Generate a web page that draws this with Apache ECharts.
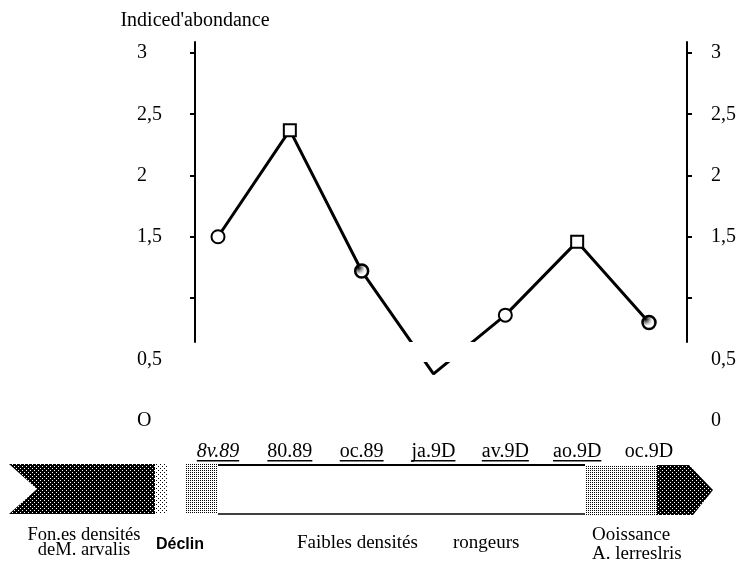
<!DOCTYPE html>
<html><head><meta charset="utf-8">
<script src="https://cdn.jsdelivr.net/npm/echarts@6/dist/echarts.min.js"></script>
<style>html,body{margin:0;padding:0;background:#fff}#c{width:739px;height:562px}</style>
</head><body><div id="c"></div>
<script>
// ---- data ----
const categories = ['8v.89', '80.89', 'oc.89', 'ja.9D', 'av.9D', 'ao.9D', 'oc.9D'];
const abundance = [1.50, 2.37, 1.22, 0.38, 0.86, 1.46, 0.80];
const markerKinds = ['open-circle', 'open-square', 'dotted-circle', 'none', 'open-circle', 'open-square', 'dotted-circle'];
const leftTickLabels = ['O', '0,5', '', '1,5', '2', '2,5', '3'];
const rightTickLabels = ['0', '0,5', '', '1,5', '2', '2,5', '3'];
const tickMarkValues = [1, 1.5, 2, 2.5, 3];
const yTitle = "Indiced'abondance";
const phaseLabels = ['Fon.es densités\ndeM. arvalis', 'Déclin', 'Faibles densités', 'rongeurs', 'Ooissance\nA. lerreslris'];

// ---- patterns ----
function pattern(w, h, bg, fg, pts) {
  const c = document.createElement('canvas');
  c.width = w; c.height = h;
  const g = c.getContext('2d');
  g.fillStyle = bg; g.fillRect(0, 0, w, h);
  g.fillStyle = fg;
  pts.forEach(p => g.fillRect(p[0], p[1], 1, 1));
  return { image: c, repeat: 'repeat' };
}
const darkPat = () => pattern(4, 4, '#000', '#fff', [[0, 0], [2, 2]]);
const lightPat = () => pattern(4, 4, '#fff', '#000', [[0, 0], [2, 2], [2, 0], [0, 2]]);
const sparsePat = () => pattern(4, 4, '#fff', '#000', [[0, 0], [2, 2]]);
const markerPat = () => pattern(4, 4, '#fff', '#000', [[1, 1], [3, 3], [1, 3]]);

const SERIF = '"Liberation Serif", "Times New Roman", serif';

function markerItem(v, kind) {
  if (kind === 'none') return { value: v, symbol: 'none' };
  if (kind === 'open-square') return { value: v, symbol: 'rect', symbolSize: 12, itemStyle: { color: '#fff', borderColor: '#000', borderWidth: 2, opacity: 1 } };
  if (kind === 'dotted-circle') return { value: v, symbol: 'circle', symbolSize: 13, itemStyle: { color: markerPat(), borderColor: '#000', borderWidth: 2.5, opacity: 1 } };
  return { value: v, symbol: 'circle', symbolSize: 13, itemStyle: { color: '#fff', borderColor: '#000', borderWidth: 2, opacity: 1 } };
}

const chart = echarts.init(document.getElementById('c'), null, { renderer: 'canvas' });

const underline = () => new echarts.graphic.LinearGradient(0, 0, 0, 1, [
  { offset: 0, color: 'rgba(255,255,255,0)' }, { offset: 0.9, color: 'rgba(255,255,255,0)' },
  { offset: 0.9, color: '#000' }, { offset: 1, color: '#000' }]);

const labelAxisBase = {
  gridIndex: 0, type: 'value', min: 0, max: 3, interval: 0.5,
  axisLine: { show: false }, axisTick: { show: false }, splitLine: { show: false }
};
const lineAxisBase = {
  gridIndex: 1, type: 'value', min: 0.64, max: 3.09,
  axisLine: { show: true, lineStyle: { color: '#000', width: 2 } },
  axisTick: { show: true, customValues: tickMarkValues, length: 5, lineStyle: { color: '#000', width: 2 } },
  axisLabel: { show: false }, splitLine: { show: false }
};

chart.setOption({
  animation: false,
  backgroundColor: '#fff',
  grid: [
    { left: 218, right: 89, top: 53, bottom: 141.5 },
    { left: 218, right: 89, top: 42, bottom: 220 }
  ],
  xAxis: [
    {
      gridIndex: 0, type: 'category', data: categories, boundaryGap: false,
      axisLine: { show: false }, axisTick: { show: false },
      axisLabel: {
        margin: 22,
        formatter: (v, i) => (i === 0 ? '{ui|' + v + '}' : (i === categories.length - 1 ? '{n|' + v + '}' : '{u|' + v + '}')),
        rich: {
          u: { fontFamily: SERIF, fontSize: 20, color: '#000', lineHeight: 18, backgroundColor: underline() },
          ui: { fontFamily: SERIF, fontSize: 20, fontStyle: 'italic', color: '#000', lineHeight: 18, backgroundColor: underline() },
          n: { fontFamily: SERIF, fontSize: 20, color: '#000', lineHeight: 18 }
        }
      }
    },
    { gridIndex: 1, type: 'category', data: categories, boundaryGap: false, show: false }
  ],
  yAxis: [
    Object.assign({}, labelAxisBase, {
      position: 'left', offset: 23,
      axisLabel: { margin: 58, align: 'left', fontFamily: SERIF, fontSize: 20, color: '#000', formatter: (v, i) => leftTickLabels[i] }
    }),
    Object.assign({}, labelAxisBase, {
      position: 'right', offset: 37,
      axisLabel: { margin: 25, align: 'left', fontFamily: SERIF, fontSize: 20, color: '#000', formatter: (v, i) => rightTickLabels[i] }
    }),
    Object.assign({}, lineAxisBase, {
      position: 'left', offset: 23,
      name: yTitle, nameLocation: 'end', nameGap: 11,
      nameTextStyle: { fontFamily: SERIF, fontSize: 20, color: '#000', align: 'center' }
    }),
    Object.assign({}, lineAxisBase, { position: 'right', offset: 37 })
  ],
  visualMap: {
    show: false, type: 'piecewise', seriesIndex: 0, dimension: 1,
    pieces: [
      { lt: 0.48, color: '#000' },
      { gte: 0.48, lte: 0.64, color: 'rgba(255,255,255,0)' },
      { gt: 0.64, color: '#000' }
    ]
  },
  series: [
    {
      type: 'line', xAxisIndex: 0, yAxisIndex: 0, data: abundance,
      showSymbol: false, symbol: 'none', lineStyle: { width: 3 }, z: 2
    },
    {
      type: 'scatter', xAxisIndex: 0, yAxisIndex: 0, z: 5,
      itemStyle: { opacity: 1 },
      data: abundance.map((v, i) => markerItem(v, markerKinds[i]))
    }
  ],
  graphic: [
    { type: 'polygon', shape: { points: [[9, 464], [155, 464], [155, 514], [9, 514], [37, 489]] }, style: { fill: darkPat() } },
    { type: 'rect', shape: { x: 155, y: 464, width: 12, height: 50 }, style: { fill: sparsePat() } },
    { type: 'rect', shape: { x: 185, y: 464, width: 33, height: 50 }, style: { fill: lightPat() } },
    { type: 'line', shape: { x1: 218, y1: 465, x2: 585, y2: 465 }, style: { stroke: '#000', lineWidth: 2 } },
    { type: 'line', shape: { x1: 218, y1: 514, x2: 585, y2: 514 }, style: { stroke: '#000', lineWidth: 1.5 } },
    { type: 'rect', shape: { x: 585, y: 465, width: 72, height: 50 }, style: { fill: lightPat() } },
    { type: 'polygon', shape: { points: [[657, 465], [689, 465], [713, 490], [693, 515], [657, 515]] }, style: { fill: darkPat() } },
    { type: 'text', style: { text: phaseLabels[0], x: 84, y: 543, align: 'center', verticalAlign: 'middle', lineHeight: 15, font: '18.5px ' + SERIF, fill: '#000' } },
    { type: 'text', style: { text: phaseLabels[1], x: 156, y: 545, align: 'left', verticalAlign: 'middle', font: 'bold 16px "Liberation Sans", Arial, sans-serif', fill: '#000' } },
    { type: 'text', style: { text: phaseLabels[2], x: 297, y: 543, align: 'left', verticalAlign: 'middle', font: '19px ' + SERIF, fill: '#000' } },
    { type: 'text', style: { text: phaseLabels[3], x: 453, y: 543, align: 'left', verticalAlign: 'middle', font: '19px ' + SERIF, fill: '#000' } },
    { type: 'text', style: { text: phaseLabels[4], x: 592, y: 545, align: 'left', verticalAlign: 'middle', lineHeight: 19, font: '19px ' + SERIF, fill: '#000' } }
  ]
});
</script>
</body></html>
